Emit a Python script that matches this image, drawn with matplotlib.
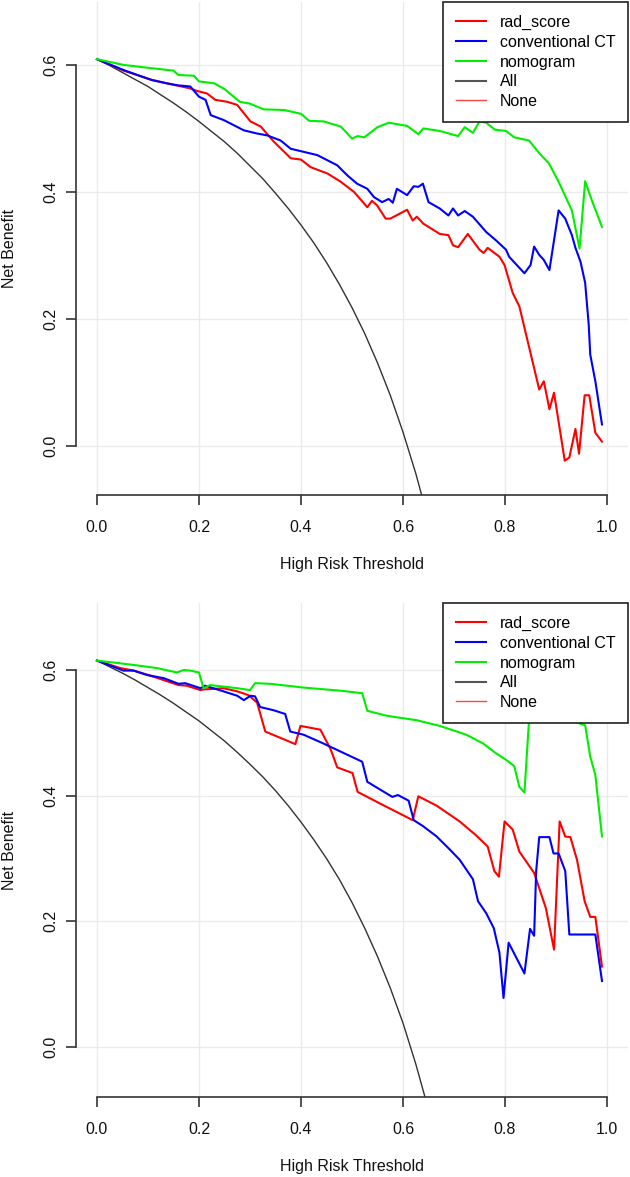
import numpy as np
import matplotlib.pyplot as plt
from matplotlib.lines import Line2D

plt.rcParams['font.family'] = ['Liberation Sans', 'DejaVu Sans']

# ---- panel 1 (upper) ----
t_rad1 = [0, 0.052, 0.105, 0.137, 0.183, 0.196, 0.216, 0.232, 0.255, 0.275, 0.288, 0.301, 0.321, 0.347,
          0.38, 0.4, 0.419, 0.452, 0.478, 0.504, 0.53, 0.539, 0.549, 0.566, 0.575, 0.608, 0.619, 0.627,
          0.64, 0.672, 0.689, 0.698, 0.708, 0.727, 0.75, 0.758, 0.766, 0.789, 0.799, 0.815, 0.828, 0.867,
          0.876, 0.887, 0.896, 0.917, 0.926, 0.938, 0.945, 0.956, 0.965, 0.977, 0.99]
nb_rad1 = [0.609, 0.591, 0.577, 0.571, 0.563, 0.559, 0.555, 0.545, 0.542, 0.537, 0.524, 0.511, 0.503, 0.479,
           0.453, 0.451, 0.439, 0.429, 0.416, 0.400, 0.376, 0.386, 0.379, 0.358, 0.358, 0.372, 0.355, 0.361,
           0.350, 0.334, 0.332, 0.316, 0.313, 0.334, 0.309, 0.304, 0.312, 0.298, 0.285, 0.241, 0.220, 0.089,
           0.102, 0.058, 0.084, -0.023, -0.018, 0.027, -0.012, 0.080, 0.080, 0.021, 0.007]

t_ct1 = [0, 0.052, 0.108, 0.137, 0.157, 0.183, 0.2, 0.213, 0.223, 0.249, 0.288, 0.314, 0.334, 0.36, 0.38,
         0.406, 0.432, 0.471, 0.491, 0.51, 0.53, 0.543, 0.559, 0.572, 0.58, 0.588, 0.608, 0.621, 0.63, 0.639,
         0.65, 0.672, 0.689, 0.698, 0.708, 0.721, 0.737, 0.763, 0.782, 0.802, 0.808, 0.838, 0.85, 0.857,
         0.867, 0.876, 0.887, 0.905, 0.918, 0.931, 0.938, 0.948, 0.957, 0.964, 0.967, 0.977, 0.99]
nb_ct1 = [0.609, 0.592, 0.576, 0.571, 0.568, 0.566, 0.550, 0.545, 0.521, 0.513, 0.497, 0.492, 0.489, 0.481,
          0.468, 0.463, 0.458, 0.442, 0.426, 0.413, 0.405, 0.392, 0.384, 0.389, 0.383, 0.405, 0.395, 0.409,
          0.408, 0.413, 0.384, 0.374, 0.363, 0.374, 0.363, 0.370, 0.361, 0.337, 0.324, 0.309, 0.298, 0.272,
          0.285, 0.314, 0.301, 0.293, 0.277, 0.371, 0.358, 0.332, 0.312, 0.290, 0.257, 0.191, 0.144, 0.102, 0.034]

t_nomo1 = [0, 0.052, 0.105, 0.15, 0.16, 0.19, 0.2, 0.23, 0.25, 0.28, 0.30, 0.327, 0.367, 0.4, 0.416, 0.445,
           0.478, 0.50, 0.511, 0.524, 0.55, 0.572, 0.608, 0.63, 0.64, 0.672, 0.708, 0.721, 0.737, 0.75, 0.763,
           0.78, 0.802, 0.818, 0.847, 0.867, 0.886, 0.905, 0.931, 0.946, 0.957, 0.97, 0.99]
nb_nomo1 = [0.609, 0.600, 0.595, 0.591, 0.584, 0.583, 0.574, 0.571, 0.562, 0.542, 0.539, 0.530, 0.529, 0.523,
            0.512, 0.511, 0.503, 0.484, 0.488, 0.486, 0.502, 0.509, 0.504, 0.491, 0.500, 0.496, 0.488, 0.502,
            0.493, 0.511, 0.509, 0.498, 0.496, 0.486, 0.481, 0.461, 0.445, 0.416, 0.371, 0.311, 0.417, 0.387, 0.345]

t_all = [0, 0.025, 0.05, 0.075, 0.1, 0.125, 0.15, 0.175, 0.2, 0.225, 0.25, 0.275, 0.3, 0.325, 0.35,
         0.375, 0.4, 0.425, 0.45, 0.475, 0.5, 0.525, 0.55, 0.575, 0.6, 0.625, 0.65]
nb_all1 = [0.609, 0.599, 0.588, 0.577, 0.566, 0.553, 0.540, 0.526, 0.511, 0.495, 0.479, 0.461, 0.441, 0.421,
           0.398, 0.374, 0.348, 0.320, 0.289, 0.255, 0.218, 0.177, 0.131, 0.080, 0.022, -0.043, -0.117]

# ---- panel 2 (lower) ----
t_rad2 = [0, 0.046, 0.072, 0.101, 0.16, 0.176, 0.203, 0.209, 0.248, 0.275, 0.297, 0.314, 0.33, 0.389, 0.399,
          0.438, 0.458, 0.471, 0.501, 0.511, 0.556, 0.619, 0.63, 0.666, 0.711, 0.743, 0.766, 0.779, 0.788,
          0.799, 0.815, 0.828, 0.857, 0.88, 0.896, 0.907, 0.918, 0.928, 0.941, 0.956, 0.967, 0.977, 0.99]
nb_rad2 = [0.615, 0.603, 0.599, 0.592, 0.576, 0.575, 0.568, 0.569, 0.571, 0.566, 0.560, 0.548, 0.502, 0.482,
           0.511, 0.505, 0.474, 0.445, 0.436, 0.406, 0.387, 0.361, 0.399, 0.384, 0.359, 0.337, 0.319, 0.280,
           0.271, 0.359, 0.346, 0.311, 0.277, 0.221, 0.155, 0.359, 0.335, 0.334, 0.298, 0.232, 0.207, 0.207, 0.128]

t_ct2 = [0, 0.052, 0.072, 0.098, 0.131, 0.16, 0.173, 0.203, 0.212, 0.248, 0.275, 0.288, 0.301, 0.31, 0.32,
         0.346, 0.369, 0.379, 0.405, 0.444, 0.478, 0.52, 0.53, 0.579, 0.59, 0.611, 0.621, 0.64, 0.666, 0.692,
         0.711, 0.737, 0.747, 0.763, 0.778, 0.789, 0.797, 0.807, 0.838, 0.849, 0.857, 0.861, 0.867, 0.887,
         0.895, 0.905, 0.918, 0.926, 0.977, 0.99]
nb_ct2 = [0.615, 0.599, 0.599, 0.592, 0.587, 0.578, 0.579, 0.571, 0.575, 0.566, 0.559, 0.552, 0.559, 0.558,
          0.541, 0.536, 0.530, 0.502, 0.497, 0.483, 0.470, 0.454, 0.422, 0.398, 0.401, 0.392, 0.361, 0.351,
          0.335, 0.314, 0.298, 0.267, 0.232, 0.213, 0.189, 0.150, 0.078, 0.166, 0.117, 0.188, 0.177, 0.280,
          0.334, 0.334, 0.308, 0.308, 0.280, 0.179, 0.179, 0.105]

t_nomo2 = [0, 0.072, 0.118, 0.157, 0.17, 0.183, 0.2, 0.209, 0.222, 0.275, 0.30, 0.31, 0.34, 0.405, 0.478,
           0.52, 0.53, 0.569, 0.627, 0.672, 0.724, 0.757, 0.783, 0.802, 0.818, 0.828, 0.838, 0.847, 0.86,
           0.90, 0.935, 0.957, 0.967, 0.977, 0.99]
nb_nomo2 = [0.615, 0.608, 0.603, 0.596, 0.600, 0.599, 0.596, 0.571, 0.576, 0.571, 0.568, 0.579, 0.578, 0.572,
            0.567, 0.563, 0.535, 0.527, 0.520, 0.511, 0.497, 0.483, 0.467, 0.457, 0.447, 0.414, 0.405, 0.520,
            0.560, 0.560, 0.518, 0.512, 0.462, 0.433, 0.335]

nb_all2 = [0.615, 0.605, 0.595, 0.584, 0.572, 0.560, 0.547, 0.533, 0.519, 0.503, 0.487, 0.469, 0.450, 0.430,
           0.408, 0.384, 0.358, 0.330, 0.300, 0.267, 0.230, 0.189, 0.144, 0.094, 0.038, -0.027, -0.100]

labels = ['rad_score', 'conventional CT', 'nomogram', 'All', 'None']
xticks = [0.0, 0.2, 0.4, 0.6, 0.8, 1.0]
yticks = [0.0, 0.2, 0.4, 0.6]

fs = 11.5


def dca_panel(ax, rad, ct, nomo, allc, ylim):
    ax.set_xlim(-0.041, 1.041)
    ax.set_ylim(*ylim)
    for v in xticks:
        ax.axvline(v, color='#ebebeb', lw=1, zorder=0)
    for v in yticks:
        ax.axhline(v, color='#ebebeb', lw=1, zorder=0)
    ax.plot(t_all, allc, color='#333333', lw=1.0, zorder=2)
    ax.plot(rad[0], rad[1], color='#ff0000', lw=1.5, zorder=3)
    ax.plot(ct[0], ct[1], color='#0000ff', lw=1.5, zorder=3)
    ax.plot(nomo[0], nomo[1], color='#00ee00', lw=1.5, zorder=3)

    for s in ['top', 'right']:
        ax.spines[s].set_visible(False)
    ax.spines['left'].set_bounds(0, 0.6)
    ax.spines['bottom'].set_bounds(0, 1)
    for s in ['left', 'bottom']:
        ax.spines[s].set_color('#333333')
        ax.spines[s].set_linewidth(1.2)
    ax.set_xticks(xticks)
    ax.set_yticks(yticks)
    ax.set_xticklabels(['%.1f' % v for v in xticks])
    ax.set_yticklabels(['%.1f' % v for v in yticks], rotation=90, va='center')
    ax.tick_params(axis='both', length=7, width=1.2, color='#333333', labelsize=fs, labelcolor='#111111')
    ax.tick_params(axis='x', pad=11)
    ax.tick_params(axis='y', pad=6)
    ax.set_xlabel('High Risk Threshold', fontsize=fs, color='#111111', va='center')
    ax.set_ylabel('Net Benefit', fontsize=fs, color='#111111', va='center')
    ax.xaxis.set_label_coords(0.5, -0.14)
    ax.yaxis.set_label_coords(-0.12, 0.5)

    handles = [Line2D([], [], color='#ff0000', lw=1.5),
               Line2D([], [], color='#0000ff', lw=1.5),
               Line2D([], [], color='#00ee00', lw=1.5),
               Line2D([], [], color='#555555', lw=1.5),
               Line2D([], [], color='#ff4444', lw=1.0)]
    leg = ax.legend(handles, labels, loc='upper right', bbox_to_anchor=(1.0, 1.0), borderaxespad=0,
                    fontsize=fs, fancybox=False, framealpha=1, edgecolor='#222222',
                    handlelength=1.9, handletextpad=0.85, labelspacing=0.3, borderpad=0.8)
    leg.get_frame().set_linewidth(1.2)
    leg.set_zorder(5)


fig = plt.figure(figsize=(6.3, 11.77), dpi=100)
ax1 = fig.add_axes([76 / 630, (1177 - 495) / 1177, 552 / 630, 493 / 1177])
ax2 = fig.add_axes([76 / 630, (1177 - 1097) / 1177, 552 / 630, 494 / 1177])

dca_panel(ax1, (t_rad1, nb_rad1), (t_ct1, nb_ct1), (t_nomo1, nb_nomo1), nb_all1, (-0.077, 0.699))
dca_panel(ax2, (t_rad2, nb_rad2), (t_ct2, nb_ct2), (t_nomo2, nb_nomo2), nb_all2, (-0.0796, 0.7066))

fig.savefig('out.png', dpi=100)
